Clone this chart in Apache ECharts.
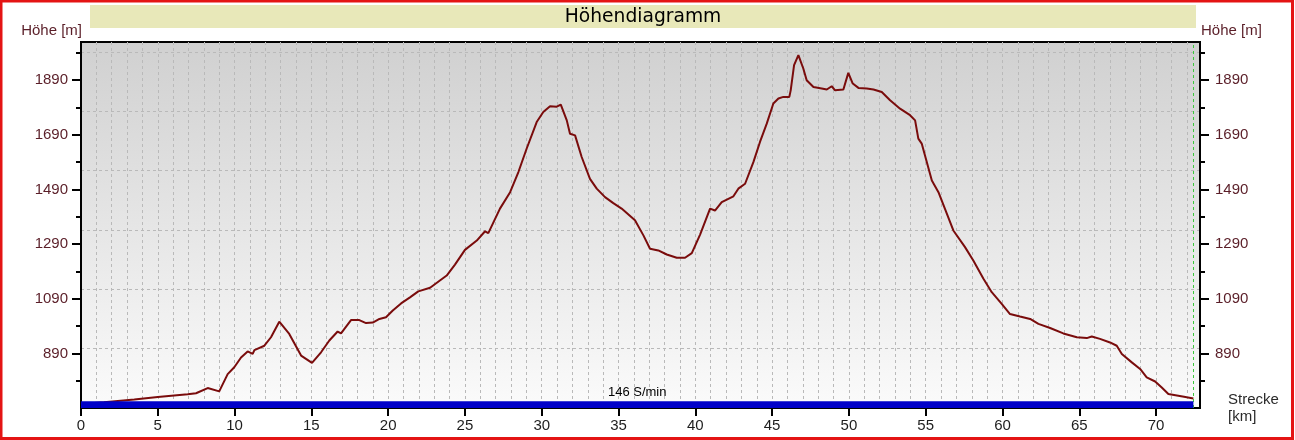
<!DOCTYPE html>
<html>
<head>
<meta charset="utf-8">
<script src="https://cdn.jsdelivr.net/npm/echarts@6/dist/echarts.min.js"></script>
<style>
  html, body { margin: 0; padding: 0; background: #fff; }
  #chart { width: 1295px; height: 440px; }
</style>
</head>
<body>
<div id="chart"></div>
<script>
// distance along the track in km and elevation in m
const km = [0, 1.5, 2.4, 3.47, 5.0, 6.95, 7.49, 7.6, 8.25, 9.0, 9.55, 9.98, 10.42, 10.85, 11.18, 11.29, 11.94, 12.37, 12.91, 13.56,
  14.33, 15.04, 15.63, 16.17, 16.71, 16.93, 17.58, 18.12, 18.56, 19.0, 19.43, 19.86, 20.3, 20.84, 21.42, 21.96, 22.73, 23.81, 24.35, 25.0,
  25.77, 26.31, 26.52, 27.28, 27.94, 28.48, 29.02, 29.67, 30.1, 30.54, 30.98, 31.24, 31.63, 31.84, 32.17, 32.6, 33.14, 33.58, 34.12, 34.66,
  35.2, 36.07, 36.62, 37.05, 37.59, 38.14, 38.79, 39.33, 39.77, 40.31, 40.96, 41.28, 41.72, 42.48, 42.8, 43.24, 43.78, 44.21, 44.65, 45.08,
  45.41, 45.73, 46.12, 46.21, 46.43, 46.71, 47.03, 47.25, 47.69, 48.23, 48.56, 48.88, 49.1, 49.64, 49.96, 50.25, 50.62, 51.16, 51.6, 52.14,
  52.68, 53.33, 53.98, 54.31, 54.52, 54.74, 55.4, 55.83, 56.8, 57.56, 58.1, 58.76, 59.3, 59.95, 60.49, 61.14, 61.8, 62.34, 63.1, 63.96,
  64.84, 65.49, 65.81, 66.35, 67.0, 67.44, 67.77, 68.42, 68.96, 69.39, 69.94, 70.37, 70.8, 71.45, 72.0, 72.43];
const hoehe = [705, 711, 716, 721, 730, 740, 744, 751, 763, 751, 814, 839, 875, 897, 888, 902, 918, 949, 1006, 961,
  882, 855, 894, 937, 970, 963, 1012, 1012, 1001, 1003, 1016, 1022, 1047, 1073, 1095, 1117, 1130, 1175, 1215, 1269,
  1303, 1337, 1330, 1420, 1480, 1554, 1640, 1737, 1774, 1795, 1793, 1801, 1743, 1694, 1688, 1609, 1529, 1493, 1462, 1440,
  1420, 1377, 1322, 1273, 1267, 1252, 1240, 1240, 1257, 1325, 1420, 1413, 1444, 1465, 1493, 1511, 1590, 1664, 1731, 1805,
  1823, 1829, 1829, 1853, 1945, 1982, 1933, 1890, 1865, 1860, 1856, 1868, 1853, 1856, 1917, 1878, 1862, 1860, 1856, 1847,
  1817, 1786, 1762, 1743, 1676, 1658, 1523, 1480, 1340, 1279, 1230, 1163, 1114, 1071, 1034, 1025, 1016, 998, 983, 963,
  949, 946, 952, 943, 930, 918, 888, 857, 833, 802, 787, 765, 741, 735, 729, 725];

const trackEnd = 72.43;
const cadence = '146 S/min';
const majorTicks = [890, 1090, 1290, 1490, 1690, 1890];
const minorTicks = [790, 990, 1190, 1390, 1590, 1790, 1990];

const yMin = 690, yMax = 2030;
const xMax = 72.86;

const chart = echarts.init(document.getElementById('chart'));

const labelFont = 'Liberation Sans, Arial, sans-serif';
const maroon = '#5a1e28';
const gridDash = { color: '#b9b9b9', type: [3, 3], width: 1 };

function heightAxis(pos, ticks, len, withLabels, name) {
  return {
    type: 'value', position: pos, min: yMin, max: yMax,
    name: name,
    nameLocation: 'end',
    nameGap: 11,
    nameTextStyle: { color: maroon, fontSize: 15, fontFamily: labelFont,
      align: pos === 'left' ? 'right' : 'left', verticalAlign: 'middle',
      padding: pos === 'left' ? [0, -1, 0, 0] : [0, 0, 0, 1] },
    axisLine: { show: withLabels, lineStyle: { color: '#000', width: 2 } },
    axisTick: { show: true, customValues: ticks, length: len, lineStyle: { color: '#000', width: 2 } },
    axisLabel: withLabels ? { show: true, customValues: ticks, color: maroon, fontSize: 15,
      fontFamily: labelFont, margin: pos === 'left' ? 13 : 15, formatter: v => String(v) } : { show: false },
    splitLine: { show: false }
  };
}

const option = {
  animation: false,
  backgroundColor: '#fff',
  title: {
    text: 'Höhendiagramm',
    left: 643, top: 8, textAlign: 'center', padding: 0,
    textStyle: { fontFamily: 'DejaVu Sans, Verdana, sans-serif', fontSize: 18.7, fontWeight: 'normal', color: '#000' }
  },
  graphic: [
    { type: 'rect', z: -1, shape: { x: 90, y: 5, width: 1106, height: 23 }, style: { fill: '#e8e8b9' } },
    { type: 'rect', z: 100, shape: { x: 1, y: 1, width: 1291.5, height: 437.5 },
      style: { fill: null, stroke: '#e41414', lineWidth: 3 } }
  ],
  grid: {
    left: 81, right: 95, top: 42, bottom: 32,
    show: true,
    borderColor: '#000', borderWidth: 2,
    backgroundColor: { type: 'linear', x: 0, y: 0, x2: 0, y2: 1,
      colorStops: [{ offset: 0, color: '#d0d0d0' }, { offset: 1, color: '#fbfbfb' }] }
  },
  xAxis: [
    {
      type: 'value', min: 0, max: xMax, interval: 5,
      name: 'Strecke\n[km]', nameLocation: 'end', nameGap: 28,
      nameTextStyle: { color: '#2a2a2a', fontSize: 15, fontFamily: labelFont, lineHeight: 17,
        align: 'left', verticalAlign: 'middle', padding: [23, 0, 0, 0] },
      axisLine: { lineStyle: { color: '#000', width: 2 } },
      axisTick: { length: 8, lineStyle: { color: '#000', width: 2 } },
      axisLabel: { color: '#1e1e1e', fontSize: 15, fontFamily: labelFont, margin: 10, showMaxLabel: false },
      splitLine: { show: false }
    },
    {
      // grid lines every kilometre
      type: 'value', min: 0, max: xMax, interval: 1, position: 'bottom',
      axisLine: { show: false }, axisTick: { show: false }, axisLabel: { show: false },
      splitLine: { show: true, showMinLine: false, showMaxLine: false, lineStyle: gridDash }
    }
  ],
  yAxis: [
    heightAxis('left', majorTicks, 9, true, 'Höhe [m]'),
    heightAxis('left', minorTicks, 5, false, ''),
    heightAxis('right', majorTicks, 9, true, 'Höhe [m]'),
    heightAxis('right', minorTicks, 5, false, ''),
    {
      // horizontal grid lines, evenly spaced like the original
      type: 'value', min: 0, max: 6.17, interval: 1, position: 'left',
      axisLine: { show: false }, axisTick: { show: false }, axisLabel: { show: false },
      splitLine: { show: true, showMinLine: false, showMaxLine: false, lineStyle: gridDash }
    }
  ],
  series: [
    {
      type: 'line',
      xAxisIndex: 0, yAxisIndex: 0,
      data: km.map((k, i) => [k, hoehe[i]]),
      showSymbol: false,
      symbol: 'none',
      lineStyle: { color: '#7a0c0c', width: 2 },
      z: 3,
      markArea: {
        z: 6,
        silent: true,
        itemStyle: { color: '#0000c8' },
        label: { show: true, position: 'top', distance: 2, formatter: cadence,
          color: '#000', fontSize: 13, fontFamily: labelFont },
        data: [[{ xAxis: 0, yAxis: yMin }, { xAxis: trackEnd, yAxis: 715 }]]
      },
      markLine: {
        silent: true,
        symbol: 'none',
        label: { show: false },
        lineStyle: { color: '#3cc83c', type: [3, 3], width: 1 },
        data: [{ xAxis: trackEnd }]
      }
    }
  ]
};

chart.setOption(option);
</script>
</body>
</html>
